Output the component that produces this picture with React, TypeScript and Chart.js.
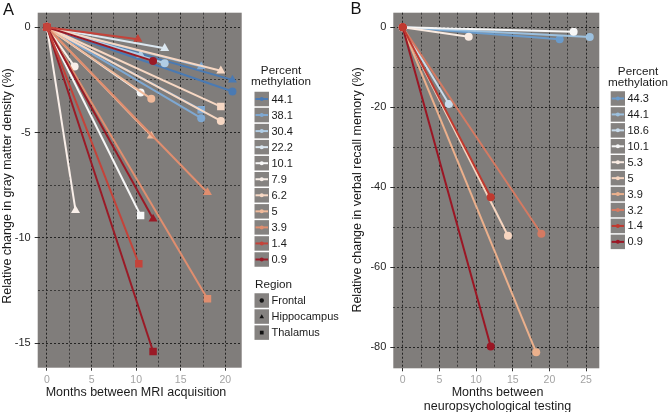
import React, { useEffect, useRef } from 'react';
import { Chart, registerables } from 'chart.js';

Chart.register(...registerables);

const FONT = '"Liberation Sans", Arial, Helvetica, sans-serif';
const PANEL_BG = '#807d7b';
const KEY_BG = '#858280';

// ---------------- Panel A data ----------------
const methylationA = ['44.1', '38.1', '30.4', '22.2', '10.1', '7.9', '6.2', '5', '3.9', '1.4', '0.9'];
const colorsA = ['#4a7ab3', '#7ea8d2', '#b0cde5', '#dce8f1', '#f7f7f7', '#f9efe9', '#f7d8c4', '#f0ba9b', '#e08e6f', '#c4433a', '#9a1a26'];
const regionsA = ['Frontal', 'Hippocampus', 'Thalamus'];
const lineSubjectA = ['1.4', '1.4', '0.9', '0.9', '0.9', '3.9', '3.9', '5', '5', '6.2', '6.2', '6.2', '7.9', '7.9', '10.1', '10.1', '22.2', '30.4', '30.4', '38.1', '38.1', '38.1', '44.1', '44.1'];
const lineRegionA = ['Thalamus', 'Hippocampus', 'Frontal', 'Hippocampus', 'Thalamus', 'Hippocampus', 'Thalamus', 'Frontal', 'Hippocampus', 'Hippocampus', 'Thalamus', 'Frontal', 'Frontal', 'Hippocampus', 'Frontal', 'Thalamus', 'Hippocampus', 'Frontal', 'Hippocampus', 'Hippocampus', 'Thalamus', 'Frontal', 'Hippocampus', 'Frontal'];
const monthsA = [10.3, 10.2, 11.9, 11.9, 11.9, 18.0, 18.0, 11.7, 11.7, 19.5, 19.5, 19.5, 3.1, 3.2, 10.5, 10.5, 13.2, 13.2, 10.5, 17.3, 17.3, 17.3, 20.8, 20.8];
const changeA = [-11.23, -0.57, -1.6, -9.1, -15.4, -7.85, -12.89, -3.4, -5.16, -2.07, -3.77, -4.45, -1.87, -8.7, -3.1, -8.94, -1.0, -1.71, -1.31, -1.87, -3.92, -4.32, -2.5, -3.05];
const xTickLabelsA = [0, 5, 10, 15, 20];
const yTickLabelsA = [0, -5, -10, -15];

// ---------------- Panel B data ----------------
const methylationB = ['44.3', '44.1', '18.6', '10.1', '5.3', '5', '3.9', '3.2', '1.4', '0.9'];
const colorsB = ['#6a9bcb', '#9cc0de', '#c9dcec', '#f7f7f7', '#f9ebe2', '#f6d5c0', '#ebb08c', '#d57a62', '#c0392f', '#9b1624'];
const lineSubjectB = ['1.4', '0.9', '3.2', '3.9', '5', '5.3', '10.1', '18.6', '44.1', '44.3'];
const monthsB = [12.0, 12.0, 18.9, 18.2, 14.35, 9.0, 23.3, 6.3, 25.5, 21.4];
const changeB = [-42.5, -79.8, -51.6, -81.25, -52.1, -2.35, -1.1, -19.2, -2.4, -3.0];
const xTickLabelsB = [0, 5, 10, 15, 20, 25];
const yTickLabelsB = [0, -20, -40, -60, -80];

const shapeOf: Record<string, string> = { Frontal: 'circle', Hippocampus: 'triangle', Thalamus: 'rect' };
const radiusOf: Record<string, number> = { Frontal: 4, Hippocampus: 5.2, Thalamus: 5.3 };

function makeDatasets(subjects: string[], regions: string[] | null, months: number[], changes: number[], names: string[], colors: string[]) {
  return subjects.map((s, i) => {
    const col = colors[names.indexOf(s)];
    const region = regions ? regions[i] : 'Frontal';
    return {
      label: s + ' ' + region,
      data: [{ x: 0, y: 0 }, { x: months[i], y: changes[i] }],
      borderColor: col,
      backgroundColor: col,
      borderWidth: 2,
      pointStyle: shapeOf[region],
      pointRadius: radiusOf[region],
      pointHoverRadius: radiusOf[region],
      pointBorderWidth: 0,
      pointBackgroundColor: col,
      tension: 0,
      fill: false,
    };
  });
}

function isLabel(v: number, labels: number[]) {
  return labels.some((l) => Math.abs(l - v) < 1e-9);
}

function drawMarker(ctx: CanvasRenderingContext2D, shape: string, x: number, y: number, r: number, color: string) {
  ctx.fillStyle = color;
  ctx.beginPath();
  if (shape === 'circle') {
    ctx.arc(x, y, r, 0, Math.PI * 2);
  } else if (shape === 'triangle') {
    ctx.moveTo(x, y - r * 1.1);
    ctx.lineTo(x + r * 1.05, y + r * 0.75);
    ctx.lineTo(x - r * 1.05, y + r * 0.75);
    ctx.closePath();
  } else {
    ctx.rect(x - r * 0.85, y - r * 0.85, r * 1.7, r * 1.7);
  }
  ctx.fill();
}

function text(ctx: CanvasRenderingContext2D, s: string, x: number, y: number, size: number, color: string, align: CanvasTextAlign = 'left', baseline: CanvasTextBaseline = 'middle', rotate = 0) {
  ctx.save();
  ctx.font = `${size}px ${FONT}`;
  ctx.fillStyle = color;
  ctx.textAlign = align;
  ctx.textBaseline = baseline;
  ctx.translate(x, y);
  if (rotate) ctx.rotate(rotate);
  ctx.fillText(s, 0, 0);
  ctx.restore();
}

type Legend = {
  titleX: number;
  titleY: number[];
  boxX: number;
  boxW: number;
  boxH: number;
  y0: number;
  dy: number;
  names: string[];
  colors: string[];
  regions?: { titleX: number; titleY: number; y0: number; names: string[] };
};

type Spec = {
  left: number;
  width: number;
  height: number;
  area: { left: number; top: number; right: number; bottom: number };
  x: { min: number; max: number; step: number; labels: number[] };
  y: { min: number; max: number; step: number; labels: number[] };
  datasets: any[];
  letter: { s: string; x: number; y: number };
  yTitle: { s: string; x: number; y: number };
  xTitle: { lines: string[]; x: number; y: number; lh: number };
  legend: Legend;
};

function drawLegend(ctx: CanvasRenderingContext2D, lg: Legend) {
  text(ctx, 'Percent', lg.titleX, lg.titleY[0], 11.7, '#1a1a1a', 'center');
  text(ctx, 'methylation', lg.titleX, lg.titleY[1], 11.7, '#1a1a1a', 'center');
  lg.names.forEach((n, i) => {
    const yc = lg.y0 + i * lg.dy;
    ctx.fillStyle = KEY_BG;
    ctx.fillRect(lg.boxX, yc - lg.boxH / 2, lg.boxW, lg.boxH);
    ctx.strokeStyle = lg.colors[i];
    ctx.lineWidth = 2;
    ctx.beginPath();
    ctx.moveTo(lg.boxX + 1, yc);
    ctx.lineTo(lg.boxX + lg.boxW - 1, yc);
    ctx.stroke();
    drawMarker(ctx, 'circle', lg.boxX + lg.boxW / 2, yc, 2, lg.colors[i]);
    text(ctx, n, lg.boxX + lg.boxW + 2.5, yc + 0.5, 11, '#1a1a1a', 'left');
  });
  if (lg.regions) {
    const rg = lg.regions;
    text(ctx, 'Region', rg.titleX, rg.titleY, 11.7, '#1a1a1a', 'left');
    rg.names.forEach((n, i) => {
      const yc = rg.y0 + i * lg.dy;
      ctx.fillStyle = KEY_BG;
      ctx.fillRect(lg.boxX, yc - lg.boxH / 2, lg.boxW, lg.boxH);
      drawMarker(ctx, shapeOf[n], lg.boxX + lg.boxW / 2, yc, 2.2, '#111111');
      text(ctx, n, lg.boxX + lg.boxW + 2.5, yc + 0.5, 11, '#1a1a1a', 'left');
    });
  }
}

function Panel({ spec }: { spec: Spec }) {
  const ref = useRef<HTMLCanvasElement>(null);
  useEffect(() => {
    const canvas = ref.current;
    if (!canvas) return;
    const a = spec.area;
    const bgPlugin = {
      id: 'panelBg',
      beforeDraw(chart: any) {
        const c = chart.ctx;
        const ca = chart.chartArea;
        c.save();
        c.fillStyle = PANEL_BG;
        c.fillRect(ca.left, ca.top, ca.right - ca.left, ca.bottom - ca.top);
        c.restore();
      },
    };
    const overlay = {
      id: 'overlay',
      afterDraw(chart: any) {
        const c = chart.ctx as CanvasRenderingContext2D;
        c.save();
        text(c, spec.letter.s, spec.letter.x, spec.letter.y, 16.5, '#111111', 'left', 'alphabetic');
        text(c, spec.yTitle.s, spec.yTitle.x, spec.yTitle.y, 12.5, '#1a1a1a', 'center', 'middle', -Math.PI / 2);
        spec.xTitle.lines.forEach((l, i) => {
          text(c, l, spec.xTitle.x, spec.xTitle.y + i * spec.xTitle.lh, 12.5, '#1a1a1a', 'center', 'alphabetic');
        });
        drawLegend(c, spec.legend);
        c.restore();
      },
    };
    const gridColor = (labels: number[]) => (ctx: any) =>
      ctx.tick && isLabel(ctx.tick.value, labels) ? 'rgba(20,20,20,0.85)' : 'rgba(30,30,30,0.7)';
    const tickColor = (labels: number[]) => (ctx: any) =>
      ctx.tick && isLabel(ctx.tick.value, labels) ? '#333333' : 'rgba(0,0,0,0)';
    const chart = new Chart(canvas, {
      type: 'line',
      data: { datasets: spec.datasets },
      options: {
        animation: false,
        responsive: false,
        maintainAspectRatio: false,
        events: [],
        layout: { padding: { left: 0, top: a.top, right: spec.width - a.right, bottom: 0 } },
        plugins: { legend: { display: false }, tooltip: { enabled: false } },
        scales: {
          x: {
            type: 'linear',
            min: spec.x.min,
            max: spec.x.max,
            afterFit: (s: any) => {
              s.height = spec.height - a.bottom;
            },
            ticks: {
              stepSize: spec.x.step,
              includeBounds: false,
              autoSkip: false,
              maxRotation: 0,
              padding: 3,
              color: '#a3a3a3',
              font: { family: FONT, size: 10.5 },
              callback: (v: any) => (isLabel(Number(v), spec.x.labels) ? String(Math.round(Number(v))) : ''),
            },
            grid: {
              color: gridColor(spec.x.labels),
              lineWidth: 1,
              drawTicks: true,
              tickLength: 3,
              tickColor: tickColor(spec.x.labels),
              tickBorderDash: [],
            },
            border: { display: false, dash: [2, 2] },
          },
          y: {
            type: 'linear',
            min: spec.y.min,
            max: spec.y.max,
            afterFit: (s: any) => {
              s.width = a.left;
            },
            ticks: {
              stepSize: spec.y.step,
              includeBounds: false,
              autoSkip: false,
              padding: 4,
              color: '#262626',
              font: { family: FONT, size: 11 },
              callback: (v: any) => (isLabel(Number(v), spec.y.labels) ? String(Math.round(Number(v))) : ''),
            },
            grid: {
              color: gridColor(spec.y.labels),
              lineWidth: 1,
              drawTicks: true,
              tickLength: 3,
              tickColor: tickColor(spec.y.labels),
              tickBorderDash: [],
            },
            border: { display: false, dash: [2, 2] },
          },
        },
      } as any,
      plugins: [bgPlugin, overlay],
    });
    return () => chart.destroy();
  }, []);
  return (
    <canvas
      ref={ref}
      width={spec.width}
      height={spec.height}
      style={{ position: 'absolute', left: spec.left, top: 0, width: spec.width, height: spec.height }}
    />
  );
}

const specA: Spec = {
  left: 0,
  width: 348,
  height: 412,
  area: { left: 37.7, top: 12.7, right: 241.7, bottom: 367.7 },
  x: { min: -1.04, max: 21.84, step: 2.5, labels: xTickLabelsA },
  y: { min: -16.17, max: 0.69, step: 2.5, labels: yTickLabelsA },
  datasets: makeDatasets(lineSubjectA, lineRegionA, monthsA, changeA, methylationA, colorsA),
  letter: { s: 'A', x: 3, y: 15 },
  yTitle: { s: 'Relative change in gray matter density (%)', x: 8, y: 186 },
  xTitle: { lines: ['Months between MRI acquisition'], x: 136, y: 396, lh: 13.5 },
  legend: {
    titleX: 281,
    titleY: [70.5, 82],
    boxX: 254.5,
    boxW: 14.5,
    boxH: 14.5,
    y0: 99,
    dy: 16.05,
    names: methylationA,
    colors: colorsA,
    regions: { titleX: 255, titleY: 285, y0: 300.5, names: regionsA },
  },
};

const specB: Spec = {
  left: 334,
  width: 334,
  height: 412,
  area: { left: 59.3, top: 12.7, right: 265.3, bottom: 368.3 },
  x: { min: -1.28, max: 26.8, step: 2.5, labels: xTickLabelsB },
  y: { min: -85.25, max: 3.65, step: 10, labels: yTickLabelsB },
  datasets: makeDatasets(lineSubjectB, null, monthsB, changeB, methylationB, colorsB),
  letter: { s: 'B', x: 16.5, y: 14 },
  yTitle: { s: 'Relative change in verbal recall memory (%)', x: 24, y: 190 },
  xTitle: { lines: ['Months between', 'neuropsychological testing'], x: 163.5, y: 396, lh: 13.5 },
  legend: {
    titleX: 304,
    titleY: [71.7, 83],
    boxX: 276.7,
    boxW: 14.3,
    boxH: 14.5,
    y0: 98.5,
    dy: 15.93,
    names: methylationB,
    colors: colorsB,
  },
};

export default function App() {
  return (
    <div style={{ position: 'absolute', left: 0, top: 0, width: 668, height: 412, background: '#ffffff', overflow: 'hidden' }}>
      <Panel spec={specA} />
      <Panel spec={specB} />
    </div>
  );
}
